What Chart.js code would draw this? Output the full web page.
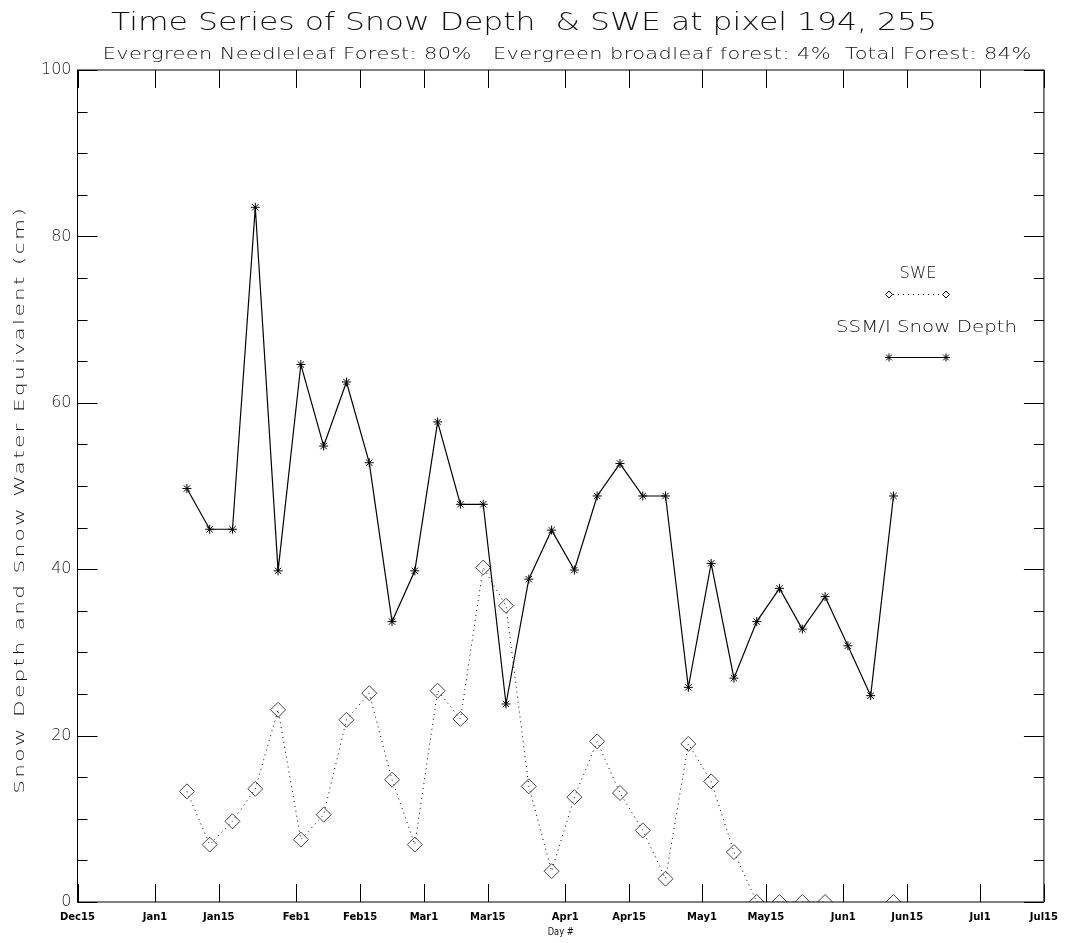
<!DOCTYPE html>
<html>
<head>
<meta charset="utf-8">
<title>Time Series of Snow Depth &amp; SWE</title>
<script src="https://cdn.jsdelivr.net/npm/chart.js@4.4.1/dist/chart.umd.min.js"></script>
<style>
html, body { margin: 0; padding: 0; background: #fff; }
#wrap { width: 1067px; height: 943px; }
</style>
</head>
<body>
<div id="wrap"><canvas id="chart" width="1067" height="943"></canvas></div>
<script>
"use strict";

// Day # (Jan1 = 1, Dec15 = -16), one value every 5 days
const obsDays = [8, 13, 18, 23, 28, 33, 38, 43, 48, 53, 58, 63, 68, 73, 78, 83,
    88, 93, 98, 103, 108, 113, 118, 123, 128, 133, 138, 143, 148, 153, 158, 163];
// SSM/I snow depth (cm)
const snowDepth = [49.7, 44.8, 44.8, 83.5, 39.8, 64.6, 54.8, 62.5, 52.8, 33.7, 39.8, 57.7,
    47.8, 47.8, 23.8, 38.8, 44.7, 39.9, 48.8, 52.7, 48.8, 48.8, 25.8, 40.7, 26.9, 33.7,
    37.7, 32.8, 36.7, 30.8, 24.8, 48.8];
// snow water equivalent (cm), null = no value
const swe = [13.3, 6.9, 9.7, 13.6, 23.1, 7.5, 10.5, 21.9, 25.1, 14.7, 6.9, 25.4,
    22.0, 40.2, 35.6, 13.9, 3.7, 12.6, 19.3, 13.1, 8.6, 2.8, 19.0, 14.5, 6.0, 0,
    0, 0, 0, null, null, 0];

const tickDays = [-16, 1, 15, 32, 46, 60, 74, 91, 105, 121, 135, 152, 166, 182, 196];
const tickLabels = ["Dec15", "Jan1", "Jan15", "Feb1", "Feb15", "Mar1", "Mar15", "Apr1",
    "Apr15", "May1", "May15", "Jun1", "Jun15", "Jul1", "Jul15"];

const titleText = "Time Series of Snow Depth  & SWE at pixel 194, 255";
const subtitleText = "Evergreen Needleleaf Forest: 80%   Evergreen broadleaf forest: 4%  Total Forest: 84%";
const yTitleText = "Snow Depth and Snow Water Equivalent (cm)";
const legendNames = ["SWE", "SSM/I Snow Depth"];

const FONT = "'DejaVu Sans', 'Liberation Sans', sans-serif";

// centred text stretched to a given width: widen glyphs first, then letter spacing
function fitText(ctx, text, x, y, width, size, weight, maxStretch) {
    ctx.save();
    ctx.font = (weight || "normal") + " " + size + "px " + FONT;
    ctx.textAlign = "left";
    ctx.textBaseline = "alphabetic";
    ctx.fillStyle = "#111";
    let w = ctx.measureText(text).width;
    let sx = Math.min(maxStretch || 1.35, width / w);
    let sp = 0;
    if ("letterSpacing" in ctx && width / w > sx) {
        sp = (width / sx - w) / text.length;
        ctx.letterSpacing = sp + "px";
        w = ctx.measureText(text).width - sp;
    } else {
        sx = width / w;
    }
    ctx.translate(x, y);
    ctx.scale(sx, 1);
    ctx.fillText(text, -w / 2, 0);
    ctx.restore();
}

function diamond(ctx, x, y, r) {
    ctx.beginPath();
    ctx.moveTo(x - r, y);
    ctx.lineTo(x, y - r);
    ctx.lineTo(x + r, y);
    ctx.lineTo(x, y + r);
    ctx.closePath();
    ctx.stroke();
}

function asterisk(ctx, x, y, r) {
    ctx.beginPath();
    for (let k = 0; k < 4; k++) {
        let a = k * Math.PI / 4;
        ctx.moveTo(x - Math.cos(a) * r, y - Math.sin(a) * r);
        ctx.lineTo(x + Math.cos(a) * r, y + Math.sin(a) * r);
    }
    ctx.stroke();
}

const idlFrame = {
    id: "idlFrame",
    afterDraw(chart) {
        let ctx = chart.ctx;
        let a = chart.chartArea;
        let xs = chart.scales.x;
        let ys = chart.scales.y;
        ctx.save();
        ctx.strokeStyle = "#000";
        ctx.lineWidth = 1;
        ctx.setLineDash([]);
        ctx.strokeRect(a.left, a.top, a.right - a.left, a.bottom - a.top);

        ctx.beginPath();
        tickDays.forEach(function(d) {
            let px = Math.round(xs.getPixelForValue(d)) + 0.5;
            ctx.moveTo(px, a.bottom);
            ctx.lineTo(px, a.bottom - 18);
            ctx.moveTo(px, a.top);
            ctx.lineTo(px, a.top + 18);
        });
        for (let v = ys.min; v <= ys.max; v += 5) {
            let py = Math.round(ys.getPixelForValue(v)) + 0.5;
            let len = v % 20 === 0 ? 20 : 10;
            ctx.moveTo(a.left, py);
            ctx.lineTo(a.left + len, py);
            ctx.moveTo(a.right, py);
            ctx.lineTo(a.right - len, py);
        }
        ctx.stroke();

        // titles
        fitText(ctx, titleText, 524, 30, 826, 25, 200);
        fitText(ctx, subtitleText, 567, 59, 929, 15.5, 200);

        // y axis title
        ctx.save();
        ctx.translate(24, 501);
        ctx.rotate(-Math.PI / 2);
        fitText(ctx, yTitleText, 0, 0, 588, 13.5, 200, 1.6);
        ctx.restore();

        // x axis title
        fitText(ctx, "Day #", (a.left + a.right) / 2, 935, 26, 11);

        // legend
        fitText(ctx, legendNames[0], 918, 278, 37, 16, 200);
        ctx.lineWidth = 1;
        diamond(ctx, 889, 294.5, 3.5);
        diamond(ctx, 946, 294.5, 3.5);
        ctx.setLineDash([1, 4]);
        ctx.beginPath();
        ctx.moveTo(893, 294.5);
        ctx.lineTo(942, 294.5);
        ctx.stroke();
        ctx.setLineDash([]);

        fitText(ctx, legendNames[1], 926.5, 332, 181, 16, 200);
        asterisk(ctx, 889, 357.5, 4);
        asterisk(ctx, 946, 357.5, 4);
        ctx.beginPath();
        ctx.moveTo(889, 357.5);
        ctx.lineTo(946, 357.5);
        ctx.stroke();
        ctx.restore();
    }
};

function points(values) {
    return obsDays.map(function(d, i) {
        return { x: d, y: values[i] };
    });
}

new Chart(document.getElementById("chart"), {
    type: "line",
    data: {
        datasets: [ {
            label: legendNames[1],
            data: points(snowDepth),
            borderColor: "#000",
            borderWidth: 1.2,
            pointStyle: "star",
            pointRadius: 4.5,
            pointBorderWidth: 1,
            pointBorderColor: "#000",
            pointBackgroundColor: "#000",
            tension: 0
        }, {
            label: legendNames[0],
            data: points(swe),
            borderColor: "#000",
            borderWidth: 1,
            borderDash: [1, 4],
            pointStyle: "rectRot",
            pointRadius: 7.5,
            pointBorderWidth: 1,
            pointBorderColor: "#444",
            pointBackgroundColor: "rgba(0,0,0,0)",
            spanGaps: false,
            clip: 0,
            tension: 0
        } ]
    },
    options: {
        responsive: false,
        devicePixelRatio: 1,
        animation: false,
        events: [],
        layout: {
            padding: { left: 0, right: 21.5, top: 70, bottom: 0 }
        },
        plugins: {
            legend: { display: false },
            title: { display: false },
            tooltip: { enabled: false }
        },
        scales: {
            x: {
                type: "linear",
                min: tickDays[0],
                max: tickDays[tickDays.length - 1],
                afterBuildTicks: function(scale) {
                    scale.ticks = tickDays.map(function(d) { return { value: d }; });
                },
                afterFit: function(scale) { scale.height = 41; },
                grid: { display: false, drawTicks: false },
                border: { display: false },
                ticks: {
                    autoSkip: false,
                    maxRotation: 0,
                    padding: 9,
                    color: "#000",
                    font: { family: FONT, size: 10, weight: "bold" },
                    callback: function(value, index) { return tickLabels[index]; }
                }
            },
            y: {
                min: 0,
                max: 100,
                afterFit: function(scale) { scale.width = 77.5; },
                grid: { display: false, drawTicks: false },
                border: { display: false },
                ticks: {
                    stepSize: 20,
                    padding: 6,
                    color: "#222",
                    font: { family: FONT, size: 16, weight: 200 }
                }
            }
        }
    },
    plugins: [ idlFrame ]
});
</script>
</body>
</html>
